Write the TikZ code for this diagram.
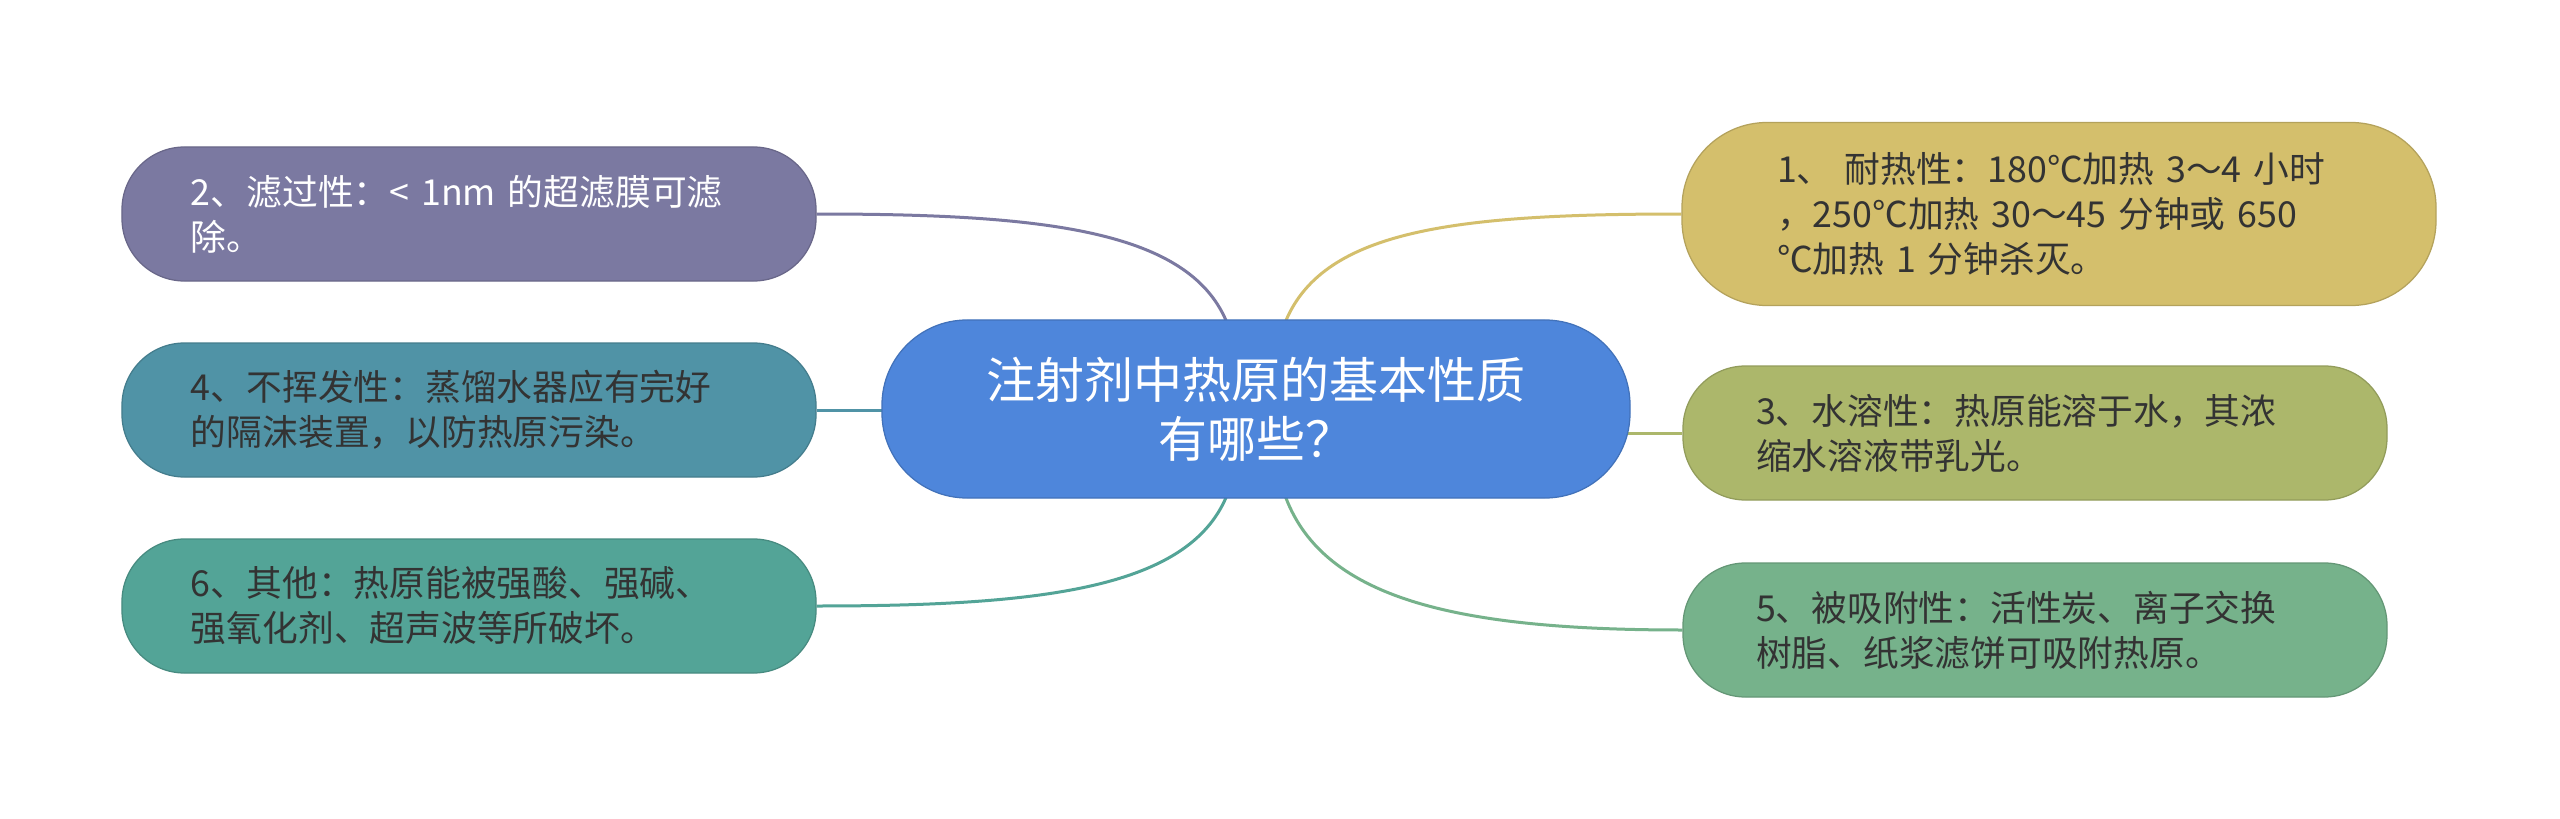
\documentclass[tikz,border=0pt]{standalone}
\usepackage{fontspec}
\setmainfont{Noto Sans CJK SC}
\usetikzlibrary{backgrounds,calc}
\definecolor{cP}{HTML}{7B79A1}
\definecolor{cT}{HTML}{5093A6}
\definecolor{cG}{HTML}{53A497}
\definecolor{cB}{HTML}{4E86DB}
\definecolor{cY}{HTML}{D4BF6C}
\definecolor{cO}{HTML}{ACB76B}
\definecolor{cM}{HTML}{76B28B}
\definecolor{txt}{HTML}{333333}
\begin{document}
\begin{tikzpicture}[x=0.4pt,y=-0.4pt,
  leaf/.style={rectangle, rounded corners=25pt, draw, line width=0.5pt, align=left,
    minimum height=53.6pt, inner ysep=4pt, text=txt,
    font=\fontsize{14.3pt}{18pt}\selectfont},
  hub/.style={rectangle, rounded corners=34pt, draw=cB!85!black, line width=0.5pt, fill=cB,
    align=center, text=white, minimum width=299.2pt, minimum height=71.2pt,
    font=\fontsize{19.6pt}{23.6pt}\selectfont},
  link/.style={line width=1.2pt}]
\useasboundingbox (0,0) rectangle (2560,819);

\node[hub] (c) at (1256,409) {注射剂中热原的基本性质\\有哪些？};

\node[leaf, fill=cP, draw=cP!85!black, text=white, text width=222.4pt, inner xsep=27.6pt] (n2) at (469,214)
  {2、滤过性：< 1nm 的超滤膜可滤\\除。};
\node[leaf, fill=cT, draw=cT!85!black, text width=222.4pt, inner xsep=27.6pt] (n4) at (469,410)
  {4、不挥发性：蒸馏水器应有完好\\的隔沫装置，以防热原污染。};
\node[leaf, fill=cG, draw=cG!85!black, text width=222.4pt, inner xsep=27.6pt] (n6) at (469,606)
  {6、其他：热原能被强酸、强碱、\\强氧化剂、超声波等所破坏。};

\node[leaf, fill=cY, draw=cY!85!black, text width=225.6pt, inner xsep=38pt, minimum height=73.2pt, rounded corners=34pt] (n1) at (2059,214)
  {1、 耐热性：180℃加热 3～4 小时\\，250℃加热 30～45 分钟或 650\\℃加热 1 分钟杀灭。};
\node[leaf, fill=cO, draw=cO!85!black, text width=223.2pt, inner xsep=29.2pt] (n3) at (2035,433)
  {3、水溶性：热原能溶于水，其浓\\缩水溶液带乳光。};
\node[leaf, fill=cM, draw=cM!85!black, text width=223.2pt, inner xsep=29.2pt] (n5) at (2035,630)
  {5、被吸附性：活性炭、离子交换\\树脂、纸浆滤饼可吸附热原。};

\begin{pgfonlayer}{background}
\fill[white] (0,0) rectangle (2560,819);
\draw[link, draw=cP] ($(c.north)+(-28,6)$) .. controls +(-36,-95) and +(230,0) .. (n2.east);
\draw[link, draw=cT] (n4.east) -- (n4.east -| c.center);
\draw[link, draw=cG] ($(c.south)+(-28,-6)$) .. controls +(-36,95) and +(230,0) .. (n6.east);
\draw[link, draw=cY] ($(c.north)+(28,6)$) .. controls +(36,-95) and +(-230,0) .. (n1.west);
\draw[link, draw=cO] (n3.west -| c.center) -- (n3.west);
\draw[link, draw=cM] ($(c.south)+(28,-6)$) .. controls +(36,105) and +(-230,0) .. (n5.west);
\end{pgfonlayer}
\end{tikzpicture}
\end{document}
